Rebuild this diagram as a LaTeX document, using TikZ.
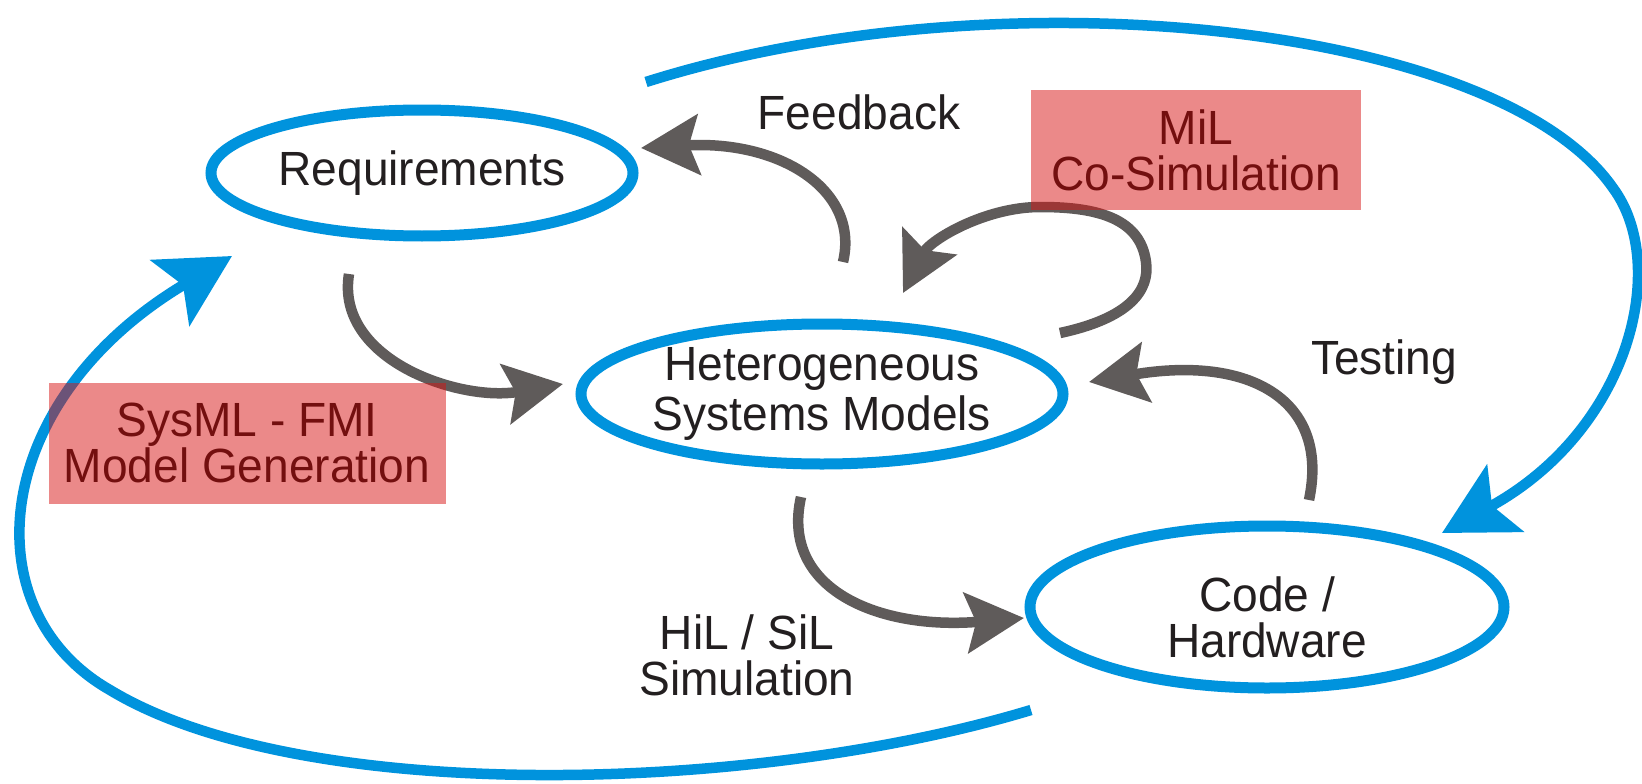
\documentclass[tikz,border=0pt]{standalone}
\usepackage{fontspec}
\setmainfont{Liberation Sans}[FakeStretch=0.96]
\usetikzlibrary{arrows.meta,shapes.geometric,calc}
\definecolor{cblue}{RGB}{0,147,221}
\definecolor{cgray}{RGB}{95,91,90}
\definecolor{ctext}{RGB}{35,31,32}
\definecolor{cred}{RGB}{215,20,20}
\definecolor{cdark}{RGB}{115,15,15}
\begin{document}
\begin{tikzpicture}[x=1pt,y=-1pt,
  every node/.style={font=\fontsize{48}{46}\selectfont, text=ctext},
  stage/.style={ellipse, draw=cblue, line width=11pt, inner sep=0pt, align=center},
  garrow/.style={draw=cgray, line width=10.5pt, -{Stealth[length=58pt 0, width=60pt 0, inset=10pt 0]}},
  barrow/.style={draw=cblue, line width=10.5pt, -{Stealth[length=72pt 0, width=76pt 0, inset=15pt 0]}},
  lbl/.style={align=center},
  tag/.style={fill=cred, fill opacity=0.5, text opacity=1, text=cdark, align=center, inner sep=0pt}
]
\useasboundingbox (0,0) rectangle (1642,784);

% coordinates
\coordinate (bt0) at (646,82);
\coordinate (bt1) at (1613,188);
\coordinate (bt2) at (1442,533);
\coordinate (bb0) at (1031,710);
\coordinate (bb1) at (110,690);
\coordinate (bb2) at (232,256);
\coordinate (g1s) at (349,274);
\coordinate (g1e) at (563,384);
\coordinate (g2s) at (843,262);
\coordinate (g2e) at (641,148);
\coordinate (g3s) at (1060,333);
\coordinate (g3a) at (1146,262);
\coordinate (g3b) at (1040,207);
\coordinate (g3e) at (903,293);
\coordinate (g4s) at (1309,500);
\coordinate (g4e) at (1089,382);
\coordinate (g5s) at (801,497);
\coordinate (g5e) at (1024,618);

% blue outer arrows
\draw[barrow] (bt0) .. controls (1000,-30) and (1499,24) .. (bt1)
                    .. controls (1670,265) and (1630,430) .. (bt2);
\draw[barrow] (bb0) .. controls (750,795) and (300,805) .. (bb1)
                    .. controls (-30,610) and (-10,400) .. (bb2);

% gray arrows
\draw[garrow] (g1s) .. controls (335,360) and (460,402) .. (g1e);
\draw[garrow] (g2s) .. controls (860,190) and (780,140) .. (g2e);
\draw[garrow] (g3s) .. controls (1130,318) and (1150,290) .. (g3a)
                    .. controls (1140,215) and (1090,207) .. (g3b)
                    .. controls (985,207) and (930,240) .. (g3e);
\draw[garrow] (g4s) .. controls (1330,400) and (1250,355) .. (g4e);
\draw[garrow] (g5s) .. controls (780,590) and (880,630) .. (g5e);

% stages
\node[stage, minimum width=422pt, minimum height=126pt] (req) at (422,173) {\raisebox{-4pt}{Requirements}};
\node[stage, minimum width=482pt, minimum height=140pt, font=\fontsize{48}{50}\selectfont] (het) at (822,394) {Heterogeneous\\Systems Models};
\node[stage, minimum width=474pt, minimum height=162pt] (code) at (1267,607) {};
\node[lbl] (codetxt) at ($(code.center)+(0,10)$) {Code /\\Hardware};

% labels
\node[lbl] (fb) at (859,112) {Feedback};
\node[lbl] (test) at (1384,362) {Testing};
\node[lbl] (hil) at (747,655) {HiL / SiL\\Simulation};

% tags
\node[tag, minimum width=330pt, minimum height=119pt] (mil) at (1196,150) {MiL\\Co-Simulation};
\node[tag, minimum width=397pt, minimum height=121pt] (sysml) at (247,443) {SysML - FMI\\Model Generation};
\end{tikzpicture}
\end{document}
